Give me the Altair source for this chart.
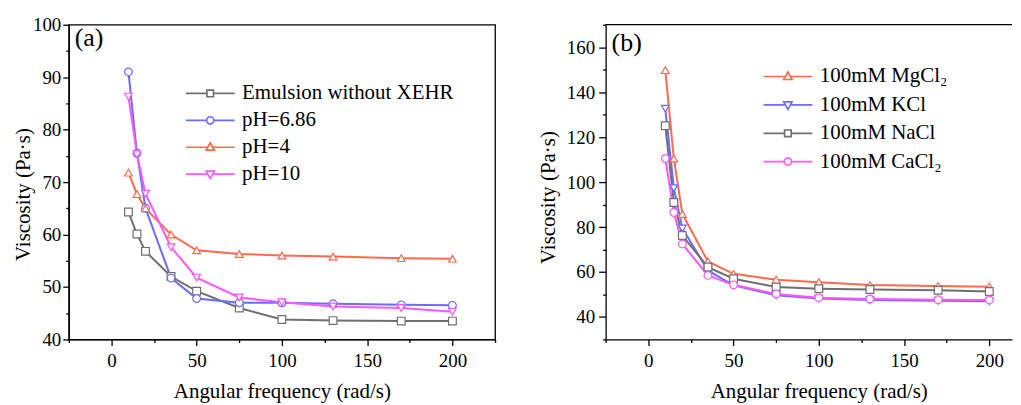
import altair as alt
import pandas as pd

FONT = "Liberation Serif"

# ---------------- data ----------------
freq = [10, 15, 20, 35, 50, 75, 100, 130, 170, 200]

a_series = ["Emulsion without XEHR", "pH=6.86", "pH=4", "pH=10"]
a_emulsion = [64.3, 60.1, 56.8, 52.0, 49.2, 46.0, 43.8, 43.6, 43.5, 43.5]
a_ph686 = [91.0, 75.5, 65.0, 51.7, 47.8, 47.0, 47.0, 46.8, 46.6, 46.5]
a_ph4 = [71.8, 67.7, 65.0, 60.0, 57.0, 56.3, 56.0, 55.8, 55.5, 55.4]
a_ph10 = [86.3, 75.3, 67.8, 57.6, 51.8, 48.0, 47.1, 46.3, 46.0, 45.3]

b_series = ["100mM MgCl\u2082", "100mM KCl", "100mM NaCl", "100mM CaCl\u2082"]
b_mgcl2 = [149.8, 110.5, 85.8, 64.7, 59.2, 56.6, 55.5, 54.2, 53.8, 53.5]
b_kcl = [132.6, 97.3, 79.4, 60.7, 54.1, 49.7, 48.2, 47.5, 47.2, 47.0]
b_nacl = [125.1, 90.9, 76.2, 62.2, 57.0, 53.3, 52.6, 52.2, 51.9, 51.3]
b_cacl2 = [110.5, 86.5, 72.5, 58.5, 54.3, 50.2, 48.6, 48.0, 47.7, 47.6]

GREY = "#6f6f6f"
BLUE = "#6b6bff"
ORANGE = "#ff6a4d"
MAGENTA = "#ff57ff"

a_colors = [GREY, BLUE, ORANGE, MAGENTA]
b_colors = [ORANGE, BLUE, GREY, MAGENTA]
a_shapes = ["square", "circle", "triangle-up", "triangle-down"]
b_shapes = ["triangle-up", "triangle-down", "square", "circle"]

# legend symbols: line with marker in the middle
P_SQUARE = "M-2.45,0H-0.33M0.33,0H2.45M-0.33,-0.33H0.33V0.33H-0.33Z"
P_CIRCLE = "M-2.45,0H-0.36M0.36,0H2.45M-0.36,0A0.36,0.36,0,1,0,0.36,0A0.36,0.36,0,1,0,-0.36,0Z"
P_TUP = "M-2.45,0H-0.26M0.26,0H2.45M-0.42,0.3L0,-0.45L0.42,0.3Z"
P_TDOWN = "M-2.45,0H-0.26M0.26,0H2.45M-0.42,-0.3L0,0.45L0.42,-0.3Z"
a_paths = [P_SQUARE, P_CIRCLE, P_TUP, P_TDOWN]
b_paths = [P_TUP, P_TDOWN, P_SQUARE, P_CIRCLE]


def long_df(series, arrays):
    rows = []
    for name, vals in zip(series, arrays):
        for f, v in zip(freq, vals):
            rows.append({"series": name, "freq": f, "value": v})
    return pd.DataFrame(rows)


df_a = long_df(a_series, [a_emulsion, a_ph686, a_ph4, a_ph10])
df_b = long_df(b_series, [b_mgcl2, b_kcl, b_nacl, b_cacl2])


def panel(df, series, colors, shapes, paths, xmax, width, ydom, ystep, ymajor, tag, tag_y,
          leg_x, leg_y, row_pad, ytitle_x, ytitle_y, ylab_pad, ytick, boxed):
    xs = alt.Scale(domain=[-25, xmax], nice=False, zero=False)
    ys = alt.Scale(domain=ydom, nice=False, zero=False)
    xaxis = alt.Axis(
        orient="bottom",
        values=[v for v in range(-25, 226, 25) if v <= xmax],
        labelExpr="datum.value % 50 === 0 ? datum.label : ''",
        title="Angular frequency (rad/s)",
        titleX=214, titleY=52, titleBaseline="middle", titleAlign="center",
        grid=False, labelPadding=6,
        tickSize={"condition": {"test": "datum.value % 50 === 0", "value": 6}, "value": 3},
        labelFlush=False, labelOverlap=False,
    )
    yvals = list(range(ydom[0], ydom[1] + 1, ystep))
    yaxis = alt.Axis(
        orient="left",
        values=yvals,
        labelExpr=f"datum.value % {ymajor} === 0 ? datum.label : ''",
        title="Viscosity (Pa\u00b7s)",
        titleX=ytitle_x, titleY=ytitle_y, titleBaseline="middle", titleAlign="center",
        grid=False, labelPadding=ylab_pad,
        tickSize={"condition": {"test": f"datum.value % {ymajor} === 0", "value": ytick}, "value": 3},
        labelFlush=False, labelOverlap=False,
    )
    x = alt.X("freq:Q", scale=xs, axis=xaxis)
    y = alt.Y("value:Q", scale=ys, axis=yaxis)

    lines = alt.Chart(df).mark_line(strokeWidth=2).encode(
        x=x, y=y,
        color=alt.Color("series:N", scale=alt.Scale(domain=series, range=colors), legend=None),
    )
    points = alt.Chart(df).mark_point(filled=False, fill="white", fillOpacity=1, size=60,
                                      strokeWidth=1.2, opacity=1).encode(
        x=x, y=y,
        color=alt.Color("series:N", scale=alt.Scale(domain=series, range=colors), legend=None),
        shape=alt.Shape("series:N", scale=alt.Scale(domain=series, range=shapes), legend=None),
    )
    leg = alt.Legend(
        title=None, orient="none", legendX=leg_x, legendY=leg_y, padding=0,
        labelFont=FONT, labelFontSize=21, labelColor="black", labelLimit=400,
        symbolSize=400, symbolStrokeWidth=1.7, labelOffset=21, rowPadding=row_pad,
    )
    legend_layer = alt.Chart(pd.DataFrame({"series": series})).mark_point(
        opacity=0, filled=False, size=400).encode(
        color=alt.Color("series:N", scale=alt.Scale(domain=series, range=colors), legend=leg),
        shape=alt.Shape("series:N", scale=alt.Scale(domain=series, range=paths), legend=leg),
    )
    tag_layer = alt.Chart(pd.DataFrame({"tag": [tag]})).mark_text(
        align="left", baseline="middle", font=FONT, fontSize=26, color="black").encode(
        x=alt.value(6), y=alt.value(tag_y), text="tag:N")

    layers = [lines, points, legend_layer, tag_layer]
    if boxed:
        view = alt.ViewBackground(stroke="black", strokeWidth=1.3)
    else:
        # only the top frame line: the right edge is cut off in the original
        view = alt.ViewBackground(stroke=None)
        frame_top = alt.Chart(pd.DataFrame({"tag": [tag]})).mark_rule(
            color="black", strokeWidth=1.3).encode(
            x=alt.value(0), x2=alt.value(width), y=alt.value(0))
        layers.append(frame_top)
    return alt.layer(*layers).resolve_scale(
        color="independent", shape="independent"
    ).properties(width=width, height=316, view=view)


pa = panel(df_a, a_series, a_colors, a_shapes, a_paths, 225, 428, [40, 100], 5, 10, "(a)", 13,
           131, 58, 6, -45, 170, 2, 6, True)
pb = panel(df_b, b_series, b_colors, b_shapes, b_paths, 213.3, 408, [30, 170], 10, 20, "(b)", 18,
           172, 41, 7.5, -57, 173, 4, 7, False)

chart = alt.hconcat(pa, pb, spacing=41).resolve_scale(
    color="independent", shape="independent"
).configure(
    padding={"left": 4, "top": 6, "right": 0, "bottom": 0}
).configure_view(
    stroke=None
).configure_axis(
    domainColor="black", domainWidth=1.3, tickColor="black", tickWidth=1.3,
    labelFont=FONT, labelFontSize=19, labelColor="black",
    titleFont=FONT, titleFontSize=21, titleFontWeight="normal", titleColor="black",
)

chart.save("out.html", embed_options={"renderer": "svg", "actions": False})
